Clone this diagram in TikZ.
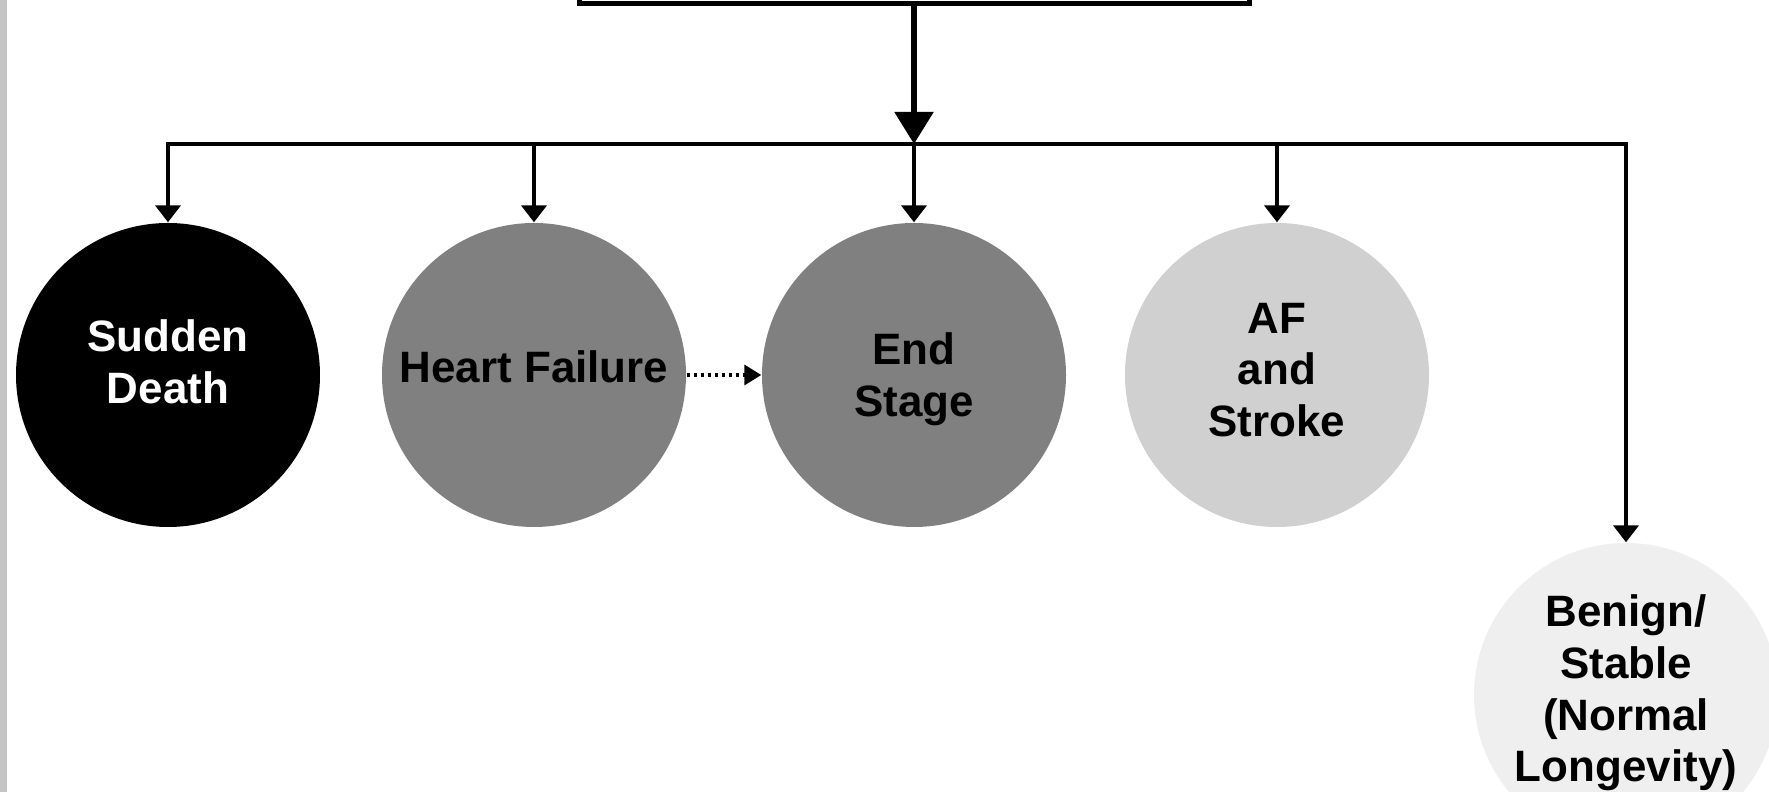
\documentclass[tikz,border=0pt]{standalone}
\usepackage{fontspec}
\setmainfont{Liberation Sans}
\usetikzlibrary{positioning, arrows.meta}
\definecolor{darkgrey}{HTML}{808080}
\definecolor{lightgrey}{HTML}{D0D0D0}
\definecolor{palegrey}{HTML}{EFEFEF}
\definecolor{edgegrey}{HTML}{C4C4C4}

\begin{document}
\begin{tikzpicture}[
            outcome/.style={circle, minimum size=3.04cm, inner sep=0pt},
            every label/.style={align=center, inner sep=0pt,
                font=\fontsize{12.5}{14.7}\selectfont\bfseries},
            drop/.style={line width=0.045cm, -{Triangle[width=0.25cm, length=0.17cm]}},
        ]
            \clip (0,0) rectangle (17.69,-7.92);
            \fill[edgegrey] (0,0) rectangle (0.075,-7.92);

            % box at the top, only its lower edge is in view
            \node[draw, line width=0.05cm, minimum width=6.7cm, minimum height=1.5cm, anchor=south] (top) at (9.14,-0.065) {};
            \coordinate (split) at (9.14,-1.44);

            \node[outcome, fill=black, label={[yshift=0.13cm, text=white]center:Sudden\\Death}] (sd) at (1.68,-3.75) {};
            \node[outcome, fill=darkgrey, label={[yshift=0.08cm]center:Heart Failure}] (hf) at (5.34,-3.75) {};
            \node[outcome, fill=darkgrey, label={[yshift=-0.04cm]center:End\\Stage}] (es) at (9.14,-3.75) {};
            \node[outcome, fill=lightgrey, label={[yshift=0.05cm]center:AF\\and\\Stroke}] (af) at (12.77,-3.75) {};
            \node[outcome, fill=palegrey, label={[yshift=0.02cm]center:Benign/\\Stable\\(Normal\\Longevity)}] (bn) at (16.26,-6.95) {};

            \draw[line width=0.055cm, -{Triangle[width=0.38cm, length=0.32cm]}] (top.south) -- (split);
            \draw[drop] (split) -| (sd.north);
            \draw[drop] (split) -| (bn.north);
            \foreach \n in {hf, es, af}
                \draw[drop] (\n.north |- split) -- (\n.north);
            \draw[line width=0.035cm, dash pattern=on 0.035cm off 0.035cm,
                -{Triangle[width=0.2cm, length=0.17cm]}] (hf.east) -- (es.west);
        \end{tikzpicture}
\end{document}
